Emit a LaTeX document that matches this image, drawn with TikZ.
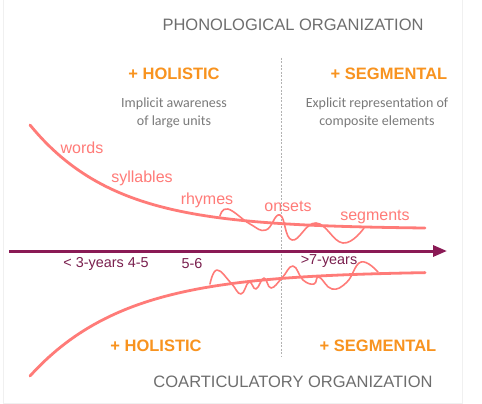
\documentclass[tikz,border=0pt]{standalone}
\usepackage{fontspec}
\setmainfont{Liberation Sans}
\newfontfamily\notefont{Carlito}
\usetikzlibrary{arrows.meta}

\definecolor{titlegray}{HTML}{6E6E6E}
\definecolor{notegray}{HTML}{7A7A7A}
\definecolor{accent}{HTML}{F8931F}
\definecolor{salmon}{HTML}{FF7B78}
\definecolor{plum}{HTML}{8A1A55}
\definecolor{plumtext}{HTML}{7A1F4E}

\tikzset{
  title/.style={text=titlegray, font=\fontsize{16.5}{18}\selectfont},
  mode/.style={text=accent, font=\fontsize{16.5}{18}\selectfont\bfseries},
  note/.style={text=notegray, font=\notefont\fontsize{14}{18}\selectfont, align=center},
  unit/.style={text=salmon, font=\fontsize{16}{18}\selectfont},
  age/.style={text=plumtext, font=\fontsize{14.4}{16}\selectfont},
  trend/.style={draw=salmon, line width=2.8pt, line cap=round},
  wiggle/.style={draw=salmon, line width=1.6pt, line cap=round, line join=round},
  divider/.style={draw=gray!60, line width=0.8pt, dash pattern=on 2pt off 1.5pt},
  timeline/.style={draw=plum, line width=3pt, -{Triangle[length=14pt,width=11pt]}}
}

\begin{document}
\begin{tikzpicture}[x=1pt, y=-1pt]
  \useasboundingbox (0,0) rectangle (482,404);
  \fill[white] (0,0) rectangle (482,404);
  \draw[black!6, line width=0.6pt] (3,-2) -- (3,403) -- (462,403) -- (462,-2);

  % headings
  \node[title] (phon) at (293,25) {PHONOLOGICAL ORGANIZATION};
  \node[title] (coart) at (293,382) {COARTICULATORY ORGANIZATION};

  % divider between the two stages
  \coordinate (divtop) at (281,58);
  \coordinate (divbot) at (281,357);
  \draw[divider] (divtop) -- (divbot);

  % stage labels
  \node[mode] (holtop) at (174,74) {+ HOLISTIC};
  \node[mode] (segtop) at (389,74) {+ SEGMENTAL};
  \node[mode] (holbot) at (156,346) {+ HOLISTIC};
  \node[mode] (segbot) at (378,346) {+ SEGMENTAL};

  \node[note] (implicit) at (174,113) {Implicit awareness\\of large units};
  \node[note] (explicit) at (377,113) {Explicit representation of\\composite elements};

  % phonological trend
  \draw[trend] plot[domain=30:425, samples=90] (\x, {229-104*exp(-(\x-30)/85)});
  \draw[wiggle] plot[smooth, tension=0.75] coordinates {
    (220,216) (228,209) (250,224) (266,230) (280,215) (292,240)
    (316,223) (343,243) (364,228)};

  % coarticulatory trend
  \draw[trend] plot[domain=30:425, samples=90] (\x, {271+105*exp(-(\x-30)/95)});
  \draw[wiggle] plot[smooth, tension=0.75] coordinates {
    (210,284) (217,270) (231,283) (241,294) (249,282) (256,289) (264,278)
    (271,288) (282,278) (293,266) (303,280) (314,284) (319,277) (332,289)
    (347,282) (361,262) (378,272)};

  % unit labels along the phonological curve
  \node[unit] (words) at (82,148) {words};
  \node[unit] (syll) at (142,178) {syllables};
  \node[unit] (rhymes) at (207,200) {rhymes};
  \node[unit] (onsets) at (288,206) {onsets};
  \node[unit] (segs) at (375,217) {segments};

  % age axis
  \coordinate (axstart) at (9,251);
  \coordinate (axend) at (447,251);
  \draw[timeline] (axstart) -- (axend);
  \node[age] (young) at (106,264) {< 3-years 4-5};
  \node[age] (mid) at (192,264) {5-6};
  \node[age] (old) at (329,261) {>7-years};
\end{tikzpicture}
\end{document}
